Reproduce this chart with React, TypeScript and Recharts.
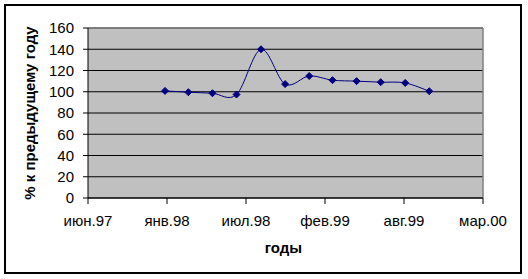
import { LineChart, Line, XAxis, YAxis, CartesianGrid, ReferenceLine } from "recharts";

// observation months (every 2 months) and % to previous year
const months = [
  "1998-01", "1998-03", "1998-05", "1998-07", "1998-09", "1998-11",
  "1999-01", "1999-03", "1999-05", "1999-07", "1999-09", "1999-11",
];
const values = [100.8, 99.6, 98.6, 97.4, 140, 107.2, 114.8, 110.9, 110, 109, 108.3, 100.5];

const tickLabels = ["июн.97", "янв.98", "июл.98", "фев.99", "авг.99", "мар.00"];
const yTicks = [0, 20, 40, 60, 80, 100, 120, 140, 160];

const DAY = 86400000;
const toDay = (s: string) => {
  const [y, m] = s.split("-").map(Number);
  return Date.UTC(y, m - 1, 1) / DAY;
};
const axisStart = Date.UTC(1997, 5, 20) / DAY;
const tickStep = 200;
const xTicks = tickLabels.map((_, i) => axisStart + i * tickStep);
const axisEnd = xTicks[xTicks.length - 1];

const data = months.map((m, i) => ({ day: toDay(m), value: values[i] }));

const font = "'Liberation Sans', Arial, sans-serif";

// Excel-like smoothed line (Catmull-Rom as Bezier)
const excelCurve = (context: any) => {
  let pts: number[][] = [];
  return {
    areaStart() {},
    areaEnd() {},
    lineStart() {
      pts = [];
    },
    point(x: number, y: number) {
      pts.push([+x, +y]);
    },
    lineEnd() {
      const n = pts.length;
      if (!n) return;
      context.moveTo(pts[0][0], pts[0][1]);
      for (let i = 0; i < n - 1; i++) {
        const p0 = pts[Math.max(i - 1, 0)];
        const p1 = pts[i];
        const p2 = pts[i + 1];
        const p3 = pts[Math.min(i + 2, n - 1)];
        context.bezierCurveTo(
          p1[0] + (p2[0] - p0[0]) / 6,
          p1[1] + (p2[1] - p0[1]) / 6,
          p2[0] - (p3[0] - p1[0]) / 6,
          p2[1] - (p3[1] - p1[1]) / 6,
          p2[0],
          p2[1]
        );
      }
    },
  };
};

const Diamond = (props: any) => {
  const { cx, cy, index } = props;
  const r = 3.5;
  return (
    <path
      key={index}
      d={`M${cx},${cy - r}L${cx + r},${cy}L${cx},${cy + r}L${cx - r},${cy}Z`}
      fill="#000080"
      stroke="#000080"
      strokeWidth={1}
    />
  );
};

export default function App() {
  return (
    <div style={{ position: "absolute", left: 0, top: 0, width: 528, height: 279, background: "#fff" }}>
      <div
        style={{
          position: "absolute",
          left: 4,
          top: 4,
          width: 514,
          height: 266,
          border: "2px solid #000",
        }}
      />
      <LineChart
        width={528}
        height={279}
        data={data}
        margin={{ top: 28, right: 45, bottom: 0, left: 28 }}
        style={{ position: "absolute", left: 0, top: 0 }}
      >
        <CartesianGrid vertical={false} stroke="#000" fill="#C0C0C0" fillOpacity={1} />
        <XAxis
          dataKey="day"
          type="number"
          domain={[axisStart, axisEnd]}
          ticks={xTicks}
          tickFormatter={(v: number) => tickLabels[Math.round((v - axisStart) / tickStep)]}
          height={81}
          tickSize={6}
          tickMargin={11}
          axisLine={{ stroke: "#000" }}
          tickLine={{ stroke: "#000" }}
          tick={{ fill: "#000", fontSize: 15, fontFamily: font }}
          interval={0}
          label={{
            content: (p: any) => (
              <text
                x={p.viewBox.x + p.viewBox.width / 2 - 2}
                y={253}
                textAnchor="middle"
                fontFamily={font}
                fontSize={15}
                fontWeight="bold"
                fill="#000"
              >
                годы
              </text>
            ),
          }}
        />
        <YAxis
          dataKey="value"
          type="number"
          domain={[0, 160]}
          ticks={yTicks}
          width={60}
          tickSize={5}
          tickMargin={9}
          axisLine={{ stroke: "#000" }}
          tickLine={{ stroke: "#000" }}
          tick={{ fill: "#000", fontSize: 15, fontFamily: font }}
          interval={0}
          label={{
            content: (p: any) => {
              const cy = p.viewBox.y + p.viewBox.height / 2;
              return (
                <text
                  x={29.5}
                  y={cy}
                  transform={`rotate(-90, 29.5, ${cy})`}
                  textAnchor="middle"
                  dominantBaseline="central"
                  fontFamily={font}
                  fontSize={15}
                  fontWeight="bold"
                  fill="#000"
                >
                  % к предыдущему году
                </text>
              );
            },
          }}
        />
        <ReferenceLine y={160} stroke="#808080" strokeWidth={1.5} />
        <ReferenceLine x={axisEnd} stroke="#808080" strokeWidth={1.5} />
        <Line
          dataKey="value"
          type={excelCurve as any}
          stroke="#000080"
          strokeWidth={1}
          dot={Diamond}
          activeDot={false}
          isAnimationActive={false}
        />
      </LineChart>
    </div>
  );
}
